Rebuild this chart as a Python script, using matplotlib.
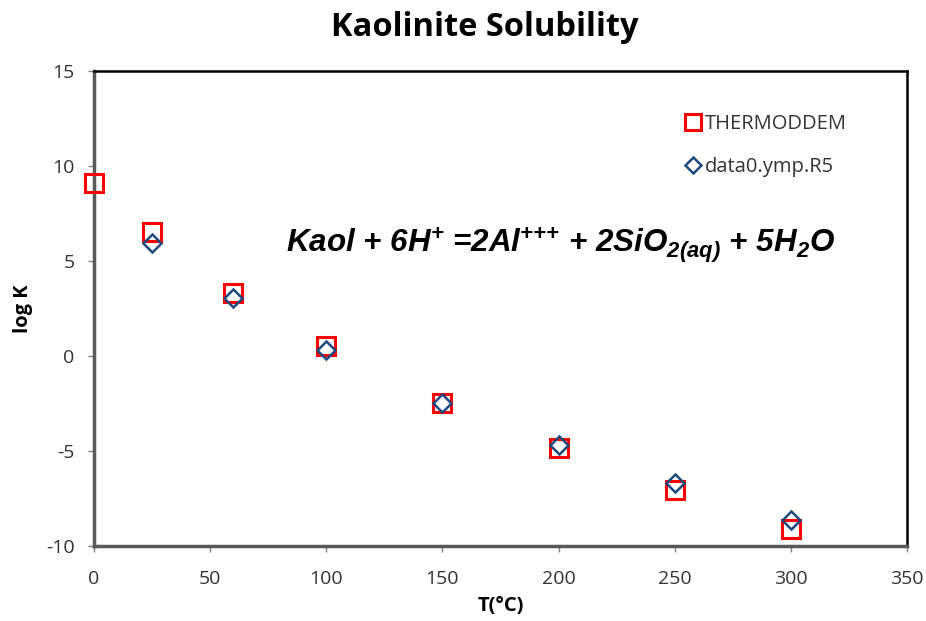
import matplotlib.pyplot as plt

plt.rcParams['font.family'] = ['Open Sans', 'DejaVu Sans']
plt.rcParams['axes.unicode_minus'] = False
plt.rcParams['mathtext.fontset'] = 'custom'
plt.rcParams['mathtext.rm'] = 'Liberation Sans:bold:italic'
plt.rcParams['mathtext.it'] = 'Liberation Sans:bold:italic'
plt.rcParams['mathtext.bf'] = 'Liberation Sans:bold:italic'

# log K of kaolinite dissolution vs temperature
T_thermoddem = [0, 25, 60, 100, 150, 200, 250, 300]
logK_thermoddem = [9.12, 6.52, 3.3, 0.5, -2.45, -4.86, -7.05, -9.1]

T_data0 = [25, 60, 100, 150, 200, 250, 300]
logK_data0 = [5.96, 3.03, 0.3, -2.48, -4.68, -6.7, -8.63]

xticks = [0, 50, 100, 150, 200, 250, 300, 350]
yticks = [-10, -5, 0, 5, 10, 15]

fig = plt.figure(figsize=(9.26, 6.21), dpi=100)
ax = fig.add_axes([0.1015, 0.1208, 0.878, 0.765])

ax.plot(T_thermoddem, logK_thermoddem, linestyle='none', marker='s', markersize=13,
        markerfacecolor='none', markeredgecolor='#FF0000', markeredgewidth=2.2,
        label='THERMODDEM', clip_on=False, zorder=3)
ax.plot(T_data0, logK_data0, linestyle='none', marker='D', markersize=9,
        markerfacecolor='none', markeredgecolor='#1F497D', markeredgewidth=1.8,
        label='data0.ymp.R5', clip_on=False, zorder=4)

ax.set_xlim(0, 350)
ax.set_ylim(-10, 15)
ax.set_xticks(xticks)
ax.set_yticks(yticks)
ax.tick_params(direction='out', length=4, width=1, color='#808080',
               labelsize=14, labelcolor='#333333')
ax.tick_params(axis='y', pad=10)
ax.tick_params(axis='x', pad=13)

for side in ['left', 'bottom']:
    ax.spines[side].set_color('#595959')
    ax.spines[side].set_linewidth(2.5)
for side in ['top', 'right']:
    ax.spines[side].set_color('black')
    ax.spines[side].set_linewidth(1.8)

fig.text(485 / 926, 1 - 28 / 621, 'Kaolinite Solubility', fontsize=23.5,
         fontweight='bold', ha='center', va='center')
ax.set_xlabel('T(°C)', fontsize=14.5, fontweight='bold', labelpad=6)
ax.set_ylabel('log K', fontsize=14.5, fontweight='bold', labelpad=9)

ax.text(82.5, 5.45,
        r'Kaol + 6H$^{\mathregular{+}}$ =2Al$^{\mathregular{{+}{+}{+}}}$ + 2SiO$_{\mathregular{2(aq)}}$ + 5H$_{\mathregular{2}}$O',
        fontsize=22.6, fontweight='bold', fontstyle='italic', family='Liberation Sans',
        ha='left', va='baseline')

leg = ax.legend(loc='upper left', bbox_to_anchor=(0.715, 0.927), frameon=False,
                fontsize=14.5, labelspacing=1.15, handletextpad=0.05, handlelength=1.0,
                markerscale=0.85, borderaxespad=0)
for t in leg.get_texts():
    t.set_color('#333333')

fig.savefig('out.png', dpi=100)
